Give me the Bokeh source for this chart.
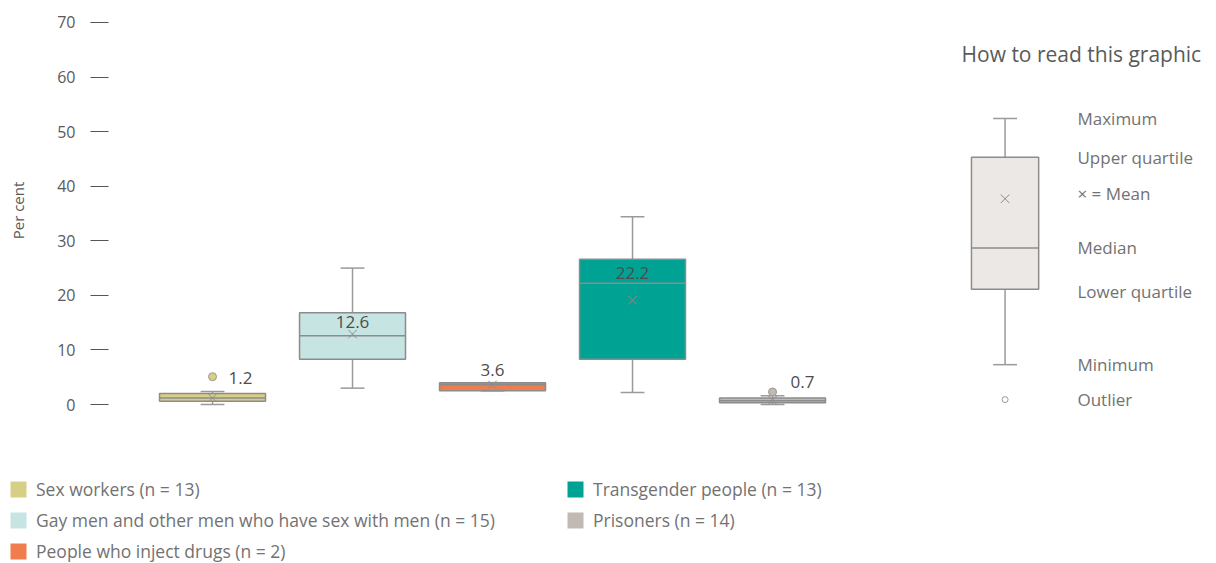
import numpy as np
from bokeh.plotting import figure
from bokeh.models import ColumnDataSource, Range1d, FixedTicker, Legend, LegendItem, Label
from bokeh.embed import file_html
from bokeh.resources import INLINE
from bokeh.core.properties import value

# ---------------- data ----------------
categories = [
    "Sex workers (n = 13)",
    "Gay men and other men who have sex with men (n = 15)",
    "People who inject drugs (n = 2)",
    "Transgender people (n = 13)",
    "Prisoners (n = 14)",
]
minimum = [0.0, 3.0, 2.5, 2.2, 0.0]
lower_quartile = [0.6, 8.3, 2.5, 8.3, 0.3]
median = [1.2, 12.6, 3.6, 22.2, 0.7]
upper_quartile = [2.0, 16.8, 4.0, 26.6, 1.2]
maximum = [2.4, 25.0, 4.0, 34.4, 1.6]
mean = [1.2, 12.9, 3.6, 19.1, 0.8]
outlier_group = [0, 4]
outlier_value = [5.1, 2.3]
y_ticks = [0, 10, 20, 30, 40, 50, 60, 70]

# illustrative "how to read" box
key_labels = ["Maximum", "Upper quartile", "\u00d7 = Mean", "Median", "Lower quartile", "Minimum", "Outlier"]
key_min, key_q1, key_median, key_mean, key_q3, key_max, key_outlier = 7.3, 21.1, 28.7, 37.7, 45.3, 52.4, 0.9

# ---------------- style ----------------
colors = ["#d8cf86", "#c6e4e1", "#ef7d4d", "#00a294", "#c1b9b2"]
label_dx = [28, 0, 0, 0, 30]
label_dy = [-20, -14, -15, -10, -19]
key_dy = [0, 0, -5, 0, 2, 0, 0]
FONT_NAME = "Open Sans"
FONT = value(FONT_NAME)
LINE = "#8c8c8c"
WHISK = "#9a9a9a"
TXT = "#5a5a5a"
TXT_LIGHT = "#727272"

W = 1208
p = figure(width=W, height=420, output_backend="svg", toolbar_location=None,
           x_range=Range1d(0.257, 8.114), y_range=Range1d(-2.93, 74.03),
           x_axis_location=None, min_border_left=108, min_border_right=0,
           min_border_top=0, min_border_bottom=0)
p.outline_line_color = None
p.xgrid.visible = False
p.ygrid.visible = False
p.background_fill_color = "white"
p.border_fill_color = "white"

ax = p.yaxis[0]
ax.ticker = FixedTicker(ticks=y_ticks)
ax.axis_line_color = None
ax.major_tick_in = 0
ax.major_tick_out = 18
ax.major_tick_line_color = "#555555"
ax.minor_tick_line_color = None
ax.major_label_standoff = 15
ax.major_label_text_font = FONT_NAME
ax.major_label_text_font_size = "16px"
ax.major_label_text_color = TXT
ax.axis_label = "Per cent"
ax.axis_label_standoff = 26
ax.axis_label_text_font = FONT_NAME
ax.axis_label_text_font_style = "normal"
ax.axis_label_text_font_size = "15px"
ax.axis_label_text_color = TXT

xs = np.arange(1, len(categories) + 1, dtype=float)
box_w = 0.757
cap_w = 0.17

src = ColumnDataSource(dict(
    x=xs, q1=lower_quartile, q3=upper_quartile, med=median, mn=minimum, mx=maximum,
    mean=mean, color=colors, x0=xs - box_w / 2, x1=xs + box_w / 2,
    c0=xs - cap_w / 2, c1=xs + cap_w / 2,
    label=[f"{m}" for m in median], dx=label_dx, dy=label_dy,
))

# whiskers and caps
p.segment(x0="x", y0="q3", x1="x", y1="mx", source=src, line_color=WHISK, line_width=1.5)
p.segment(x0="x", y0="mn", x1="x", y1="q1", source=src, line_color=WHISK, line_width=1.5)
p.segment(x0="c0", y0="mx", x1="c1", y1="mx", source=src, line_color=WHISK, line_width=1.5)
p.segment(x0="c0", y0="mn", x1="c1", y1="mn", source=src, line_color=WHISK, line_width=1.5)

# boxes
p.vbar(x="x", width=box_w, bottom="q1", top="q3", source=src,
       fill_color="color", line_color=LINE, line_width=1.5)
p.segment(x0="x0", y0="med", x1="x1", y1="med", source=src, line_color=LINE, line_width=1.5)
p.scatter(x="x", y="mean", source=src, marker="x", size=12, line_color=LINE, line_width=1)

# outliers
p.scatter(x=[xs[g] for g in outlier_group], y=outlier_value, size=8,
          fill_color=[colors[g] for g in outlier_group], line_color="#999999", line_width=1)

# median labels
p.text(x="x", y="med", text="label", x_offset="dx", y_offset="dy", source=src,
       text_align="center", text_baseline="middle", text_font=FONT,
       text_font_size="17px", text_color="#4d4d4d")

# ---------------- how to read key ----------------
kx = 6.661
kw = 0.48
p.segment(x0=[kx, kx], y0=[key_q3, key_min], x1=[kx, kx], y1=[key_max, key_q1],
          line_color=WHISK, line_width=1.5)
p.segment(x0=[kx - cap_w / 2] * 2, y0=[key_max, key_min], x1=[kx + cap_w / 2] * 2,
          y1=[key_max, key_min], line_color=WHISK, line_width=1.5)
p.vbar(x=[kx], width=kw, bottom=[key_q1], top=[key_q3], fill_color="#ece8e5",
       line_color=LINE, line_width=1.5)
p.segment(x0=[kx - kw / 2], y0=[key_median], x1=[kx + kw / 2], y1=[key_median],
          line_color=LINE, line_width=1.5)
p.scatter(x=[kx], y=[key_mean], marker="x", size=12, line_color=LINE, line_width=1)
p.scatter(x=[kx], y=[key_outlier], size=6, fill_color="white", line_color="#999999", line_width=1)

p.text(x=[7.178] * len(key_labels),
       y=[key_max, key_q3, key_mean, key_median, key_q1, key_min, key_outlier],
       y_offset=key_dy,
       text=key_labels, text_align="left", text_baseline="middle", text_font=FONT,
       text_font_size="17px", text_color=TXT_LIGHT)

p.add_layout(Label(x=6.350, y=64.14, text="How to read this graphic", text_align="left",
                   text_baseline="middle", text_font=FONT_NAME, text_font_size="21px",
                   text_color=TXT))

# ---------------- legend strip (separate root, no frame alignment) ----------------
pl = figure(width=W, height=143, output_backend="svg", toolbar_location=None,
            x_range=Range1d(100, 101), y_range=Range1d(100, 101),
            x_axis_location=None, y_axis_location=None,
            min_border_left=0, min_border_right=0, min_border_top=0, min_border_bottom=0)
pl.outline_line_color = None
pl.xgrid.visible = False
pl.ygrid.visible = False
leg_r = pl.vbar(x="x", width=box_w, bottom="q1", top="q3", source=src,
                fill_color="color", line_color=None)

items = [LegendItem(label=c, renderers=[leg_r], index=i) for i, c in enumerate(categories)]
legend = Legend(items=items, location=(8, 0), orientation="vertical", nrows=3,
                glyph_width=20, glyph_height=20, label_height=24, label_width=522,
                label_standoff=8, spacing=7, padding=0, margin=0,
                border_line_color=None, background_fill_alpha=0,
                label_text_font=FONT_NAME, label_text_font_size="17.5px",
                label_text_color=TXT_LIGHT)
pl.add_layout(legend)

open("out.html", "w").write(file_html([p, pl], INLINE))
